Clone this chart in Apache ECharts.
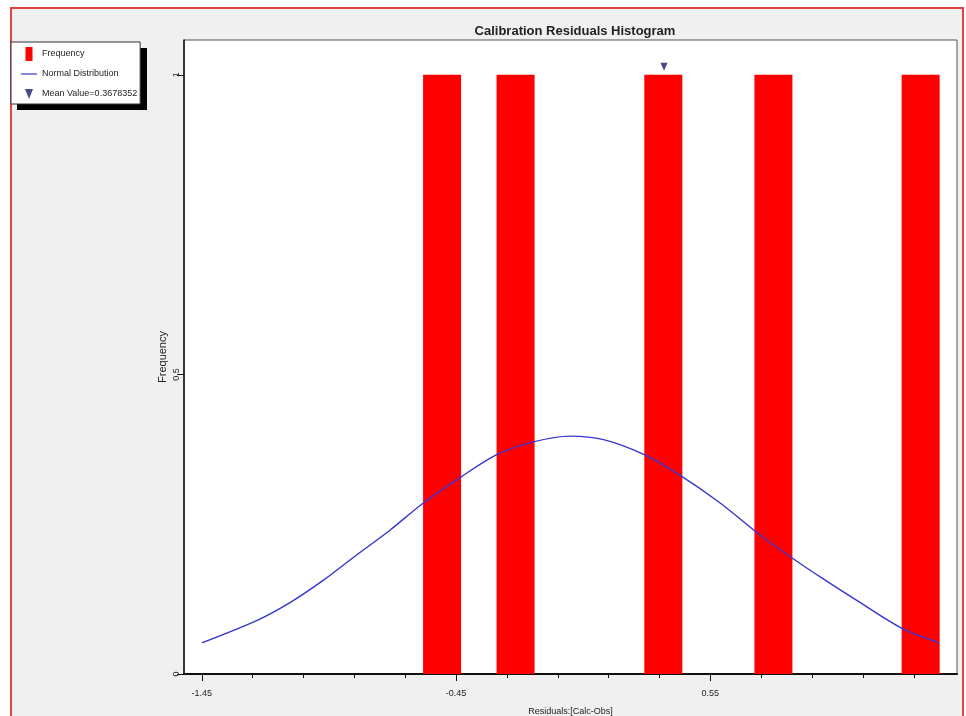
<!DOCTYPE html>
<html>
<head>
<meta charset="utf-8">
<script src="https://cdn.jsdelivr.net/npm/echarts@6/dist/echarts.min.js"></script>
<style>
  body { margin: 0; background: #fff; }
  #main { width: 966px; height: 716px; }
</style>
</head>
<body>
<div id="main"></div>
<script>
// histogram bins (centre of each residual bin) and their counts
const binCenters = [-0.505, -0.216, 0.365, 0.798, 1.377];
const frequencies = [1, 1, 1, 1, 1];

// normal distribution curve
const curveX = [-1.45, -1.23, -1.10, -0.97, -0.84, -0.71, -0.58, -0.43, -0.29, -0.15, 0.00,
                0.13, 0.29, 0.43, 0.59, 0.73, 0.87, 1.00, 1.14, 1.30, 1.45];
const curveY = [0.052, 0.090, 0.120, 0.157, 0.199, 0.240, 0.285, 0.329, 0.366, 0.387, 0.397,
                0.391, 0.366, 0.332, 0.285, 0.237, 0.194, 0.157, 0.119, 0.077, 0.052];

const meanValue = 0.3678352;

// tick labels
const xLabelValues = [-1.45, -0.45, 0.55];
const xTickValues = [-1.45, -1.25, -1.05, -0.85, -0.65, -0.45, -0.25, -0.05,
                     0.15, 0.35, 0.55, 0.75, 0.95, 1.15, 1.35];
const yTickValues = [0, 0.5, 1];

const font = '"Liberation Sans", Arial, sans-serif';

let chart = echarts.init(document.getElementById('main'));

let option = {
    animation: false,
    textStyle: { fontFamily: font },
    graphic: [
        {
            // outer red frame
            type: 'rect',
            z: -10,
            shape: { x: 11, y: 8, width: 952, height: 720 },
            style: { fill: '#f0f0f0', stroke: '#e04444', lineWidth: 2 }
        },
        {
            // black drop shadow of the legend box
            type: 'rect',
            z: 1,
            shape: { x: 17, y: 48, width: 130, height: 62 },
            style: { fill: '#000' }
        }
    ],
    title: {
        text: 'Calibration Residuals Histogram',
        left: 570,
        top: 20,
        textAlign: 'center',
        textStyle: { fontFamily: font, fontSize: 13, fontWeight: 'bold', color: '#222' }
    },
    legend: {
        orient: 'vertical',
        left: 11,
        top: 42,
        padding: [5, 3, 3, 10],
        itemWidth: 16,
        itemHeight: 14,
        itemGap: 6,
        backgroundColor: '#fff',
        borderColor: '#333',
        borderWidth: 1,
        textStyle: { fontFamily: font, fontSize: 9, color: '#222' },
        data: [
            { name: 'Frequency', icon: 'path://M0,0h7v14h-7z' },
            { name: 'Normal Distribution', icon: 'path://M0,0M16,14M0,6.4h16v1.2h-16z',
              itemStyle: { color: '#3535d0' } },
            { name: 'Mean Value=0.3678352', icon: 'path://M0,0M16,14M4,2L12,2L8,12Z' }
        ]
    },
    grid: {
        left: 184,
        right: 9,
        top: 40,
        bottom: 42,
        outerBoundsMode: 'none',
        show: true,
        backgroundColor: '#fff',
        borderColor: '#555',
        borderWidth: 1
    },
    xAxis: [
        {
            type: 'value',
            position: 'bottom',
            min: -1.52,
            max: 1.52,
            name: 'Residuals:[Calc-Obs]',
            nameLocation: 'middle',
            nameGap: 33,
            nameMoveOverlap: false,
            nameTextStyle: { fontFamily: font, fontSize: 9, color: '#222' },
            axisLine: { onZero: false, lineStyle: { color: '#111', width: 2 } },
            axisTick: { customValues: xTickValues, length: 4, lineStyle: { color: '#111' } },
            axisLabel: { customValues: xLabelValues, fontSize: 9, color: '#222', margin: 15 },
            splitLine: { show: false }
        },
        {
            // longer ticks under the labelled values
            type: 'value',
            position: 'bottom',
            min: -1.52,
            max: 1.52,
            axisLine: { show: false, onZero: false },
            axisTick: { customValues: xLabelValues, length: 7, lineStyle: { color: '#111' } },
            axisLabel: { show: false },
            splitLine: { show: false }
        }
    ],
    yAxis: {
        type: 'value',
        min: 0,
        max: 1.058,
        name: 'Frequency',
        nameLocation: 'middle',
        nameGap: 16,
        nameRotate: 90,
        nameMoveOverlap: false,
        nameTextStyle: { fontFamily: font, fontSize: 11, color: '#222' },
        axisLine: { show: true, onZero: false, lineStyle: { color: '#111', width: 1.5 } },
        axisTick: { show: true, customValues: yTickValues, length: 7, lineStyle: { color: '#111' } },
        axisLabel: { customValues: yTickValues, rotate: 90, fontSize: 9, color: '#222', margin: 3 },
        splitLine: { show: false }
    },
    series: [
        {
            name: 'Frequency',
            type: 'bar',
            barWidth: 38,
            itemStyle: { color: '#ff0000' },
            data: binCenters.map((x, i) => [x, frequencies[i]])
        },
        {
            name: 'Normal Distribution',
            type: 'line',
            symbol: 'none',
            smooth: 0.3,
            lineStyle: { color: '#3535d0', width: 1.4 },
            itemStyle: { color: '#3535d0' },
            data: curveX.map((x, i) => [x, curveY[i]])
        },
        {
            name: 'Mean Value=0.3678352',
            type: 'scatter',
            symbol: 'path://M0,0L8,0L4,9Z',
            symbolSize: [7, 8],
            symbolOffset: [0, -8],
            itemStyle: { color: '#1a1a6e' },
            data: [[meanValue, 1]]
        }
    ]
};

chart.setOption(option);
</script>
</body>
</html>
